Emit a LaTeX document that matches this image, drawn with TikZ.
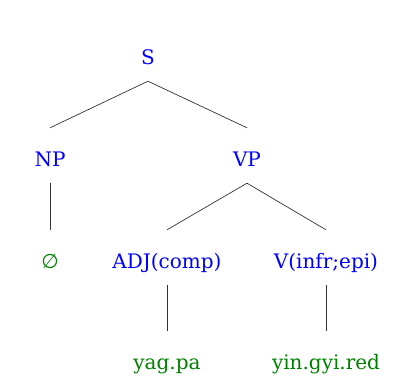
\documentclass[tikz,border=0pt]{standalone}
\usepackage{fontspec}
\setmainfont{DejaVu Serif}
\newfontfamily\symfont{DejaVu Sans}
\usetikzlibrary{calc, shapes}
\definecolor{catblue}{RGB}{0,0,255}
\definecolor{wordgreen}{RGB}{0,128,0}

\begin{document}
\begin{tikzpicture}[x=1pt, y=-1pt,
 cat/.style={anchor=base, text=catblue, inner xsep=0pt, inner ysep=8pt, text height=30pt, text depth=9pt},
 word/.style={anchor=base, text=wordgreen, inner xsep=0pt, inner ysep=8pt, text height=30pt, text depth=9pt},
 branch/.style={draw=black!80, line width=0.7pt}]
\newcommand{\mytreefont}[1]{
\fontsize{20}{24}\selectfont{#1}
}%Page frame
\useasboundingbox (0,0) rectangle (401,383);
%Root
\node [cat] (S) at (148,64) {\mytreefont{S}};
%Second level
\node [cat] (NP) at (50,166) {\mytreefont{NP}};
\node [cat] (VP) at (247,166) {\mytreefont{VP}};
%Third level
\node [word] (null) at (50,268) {\mytreefont{\symfont ∅}};
\node [cat] (ADJ) at (167,268) {\mytreefont{ADJ(comp)}};
\node [cat] (V) at (326,268) {\mytreefont{V(infr;epi)}};
%The words
\node [word] (yagpa) at (167,369) {\mytreefont{yag.pa}};
\node [word] (yingyired) at (326,369) {\mytreefont{yin.gyi.red}};
%Branches
\draw [branch] (S.south) -- (NP.north);
\draw [branch] (S.south) -- (VP.north);
\draw [branch] (NP.south) -- (null.north);
\draw [branch] (VP.south) -- (ADJ.north);
\draw [branch] (VP.south) -- (V.north);
\draw [branch] (ADJ.south) -- (yagpa.north);
\draw [branch] (V.south) -- (yingyired.north);
\end{tikzpicture}
\end{document}
